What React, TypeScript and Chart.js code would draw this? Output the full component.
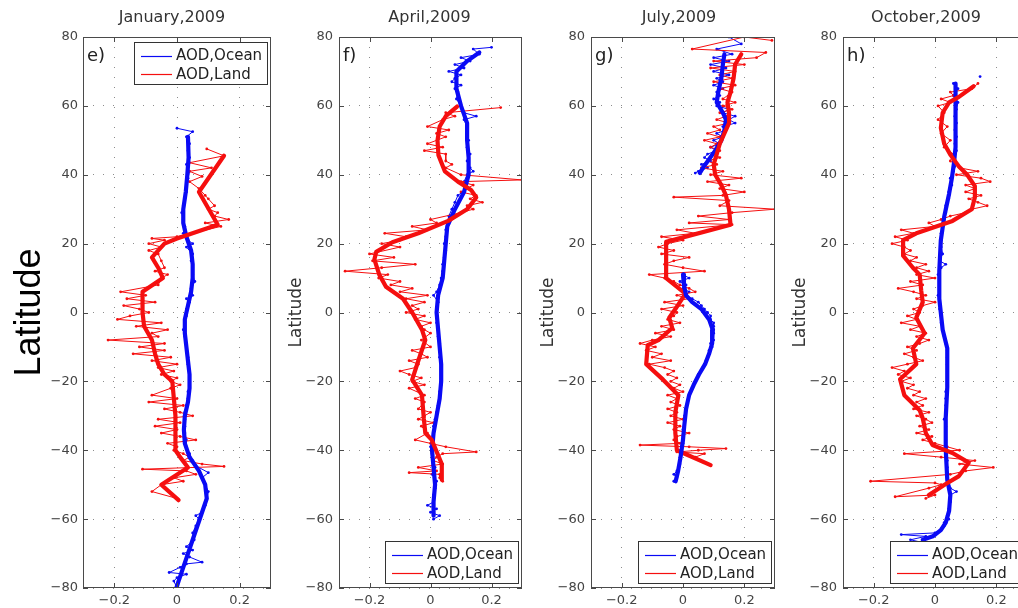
import React, { useEffect, useRef } from 'react';
import { Chart, registerables } from 'chart.js';

Chart.register(...registerables);

type P = [number, number]; // [latitude, AOD difference]

const panelTitles = ['January,2009', 'April,2009', 'July,2009', 'October,2009'];
const panelLetters = ['e)', 'f)', 'g)', 'h)'];
const legendLabels = ['AOD,Ocean', 'AOD,Land'];
const yAxisLabel = 'Latitude';
const latTicks = [-80, -60, -40, -20, 0, 20, 40, 60, 80];
const aodTicks = [-0.2, 0, 0.2];
const latRange = [-80, 80];
const aodRange = [-0.3, 0.3];

// ---------- January ----------
const janOceanRaw: P[] = [
  [53.5, 0.0], [52.5, 0.05], [51, 0.03], [49, 0.04], [47, 0.035], [45, 0.04], [43, 0.03], [41, 0.04],
  [39, 0.035], [37, 0.03], [35, 0.03], [33, 0.025], [31, 0.02], [29, 0.015], [27, 0.02], [25, 0.025],
  [23, 0.02], [21, 0.035], [20, 0.05], [19, 0.03], [17, 0.05], [15, 0.045], [13, 0.05], [11, 0.05],
  [9, 0.057], [7, 0.045], [5, 0.05], [4, 0.03], [3, 0.04], [1, 0.03], [-1, 0.03], [-3, 0.025],
  [-5, 0.02], [-7, 0.025], [-9, 0.03], [-11, 0.03], [-13, 0.035], [-15, 0.035], [-17, 0.04], [-19, 0.04],
  [-21, 0.04], [-23, 0.035], [-25, 0.035], [-27, 0.03], [-29, 0.025], [-31, 0.025], [-33, 0.025], [-35, 0.025],
  [-37, 0.03], [-39, 0.03], [-41, 0.04], [-43, 0.05], [-44.5, 0.06], [-46.5, 0.1], [-48, 0.08], [-50, 0.09],
  [-52, 0.1], [-54, 0.095], [-56, 0.09], [-58, 0.08], [-59, 0.06], [-60, 0.07], [-62, 0.06], [-64, 0.05],
  [-66, 0.055], [-68, 0.03], [-69, 0.05], [-70, 0.02], [-71, 0.04], [-72.5, 0.08], [-73, 0.03], [-74, 0.01],
  [-75.5, -0.025], [-76, 0.03], [-77, 0.0], [-78, -0.01], [-80, 0.0],
];
const janOceanSmooth: P[] = [
  [51, 0.035], [45, 0.037], [40, 0.033], [35, 0.028], [30, 0.02], [26, 0.02], [22, 0.03], [18, 0.045],
  [14, 0.05], [10, 0.05], [6, 0.045], [2, 0.035], [-2, 0.025], [-6, 0.025], [-10, 0.03], [-14, 0.035],
  [-18, 0.04], [-22, 0.04], [-26, 0.035], [-30, 0.025], [-34, 0.022], [-38, 0.025], [-42, 0.04], [-46, 0.07],
  [-50, 0.09], [-54, 0.095], [-58, 0.08], [-62, 0.065], [-66, 0.05], [-70, 0.035], [-74, 0.02], [-78, 0.005],
  [-80, -0.002],
];
const janLandRaw: P[] = [
  [47.5, 0.095], [45.5, 0.15], [43.5, 0.04], [42, 0.11], [41, 0.04], [39.5, 0.08], [38, 0.04], [36, 0.07],
  [34, 0.09], [33, 0.1], [31, 0.12], [30, 0.1], [29, 0.13], [28, 0.12], [27, 0.165], [26, 0.09],
  [25, 0.14], [22, 0.0], [21.5, -0.08], [21, -0.04], [20, -0.09], [19, -0.05], [18, -0.09], [17, -0.06],
  [15, -0.05], [13, -0.04], [12, -0.07], [11, -0.03], [10, -0.05], [8, -0.06], [6, -0.18], [5, -0.1],
  [4, -0.16], [3, -0.07], [2, -0.17], [1, -0.12], [0, -0.09], [-1, -0.15], [-2, -0.19], [-3, -0.05],
  [-4, -0.13], [-5, -0.03], [-6, -0.08], [-7, -0.06], [-8, -0.22], [-9, -0.04], [-10, -0.12], [-11, -0.04],
  [-12, -0.14], [-13, -0.02], [-14, -0.08], [-15, 0.0], [-16, -0.06], [-17, -0.01], [-18, -0.05], [-19, 0.0],
  [-20, -0.02], [-21, 0.01], [-22, -0.02], [-24, -0.08], [-25, 0.0], [-26, -0.09], [-27, 0.02], [-28, -0.04],
  [-29, 0.01], [-30, 0.05], [-31, -0.06], [-32, 0.01], [-33, -0.07], [-34, 0.0], [-35, -0.05], [-36, 0.01],
  [-37, 0.06], [-38, -0.03], [-39, 0.0], [-40, -0.01], [-41, 0.02], [-42, 0.04], [-43, 0.02], [-44, 0.08],
  [-44.7, 0.15], [-45.5, -0.11], [-46, 0.03], [-47, 0.06], [-48, -0.01], [-49, 0.02], [-50, -0.05], [-52, -0.08],
  [-54, 0.0],
];
const janLandSmooth: P[] = [
  [45.5, 0.15], [35, 0.07], [25.5, 0.13], [21.5, 0.0], [20, -0.04], [16, -0.08], [13, -0.06], [10, -0.045],
  [6, -0.11], [0, -0.11], [-4, -0.105], [-8, -0.08], [-12, -0.07], [-15, -0.06], [-18, -0.04], [-20, -0.015],
  [-25, -0.01], [-30, -0.005], [-35, -0.005], [-40, -0.005], [-42, 0.01], [-45, 0.035], [-50, -0.05], [-54.5, 0.005],
];

// ---------- April ----------
const aprOceanRaw: P[] = [
  [77, 0.2], [76.5, 0.14], [75, 0.16], [74, 0.1], [73, 0.13], [72, 0.08], [71, 0.11], [70, 0.06],
  [69, 0.1], [68, 0.08], [67, 0.07], [66, 0.1], [65, 0.08], [64, 0.09], [62, 0.085], [60, 0.1],
  [58, 0.11], [57, 0.15], [56, 0.11], [54, 0.12], [52, 0.12], [50, 0.125], [48, 0.12], [46, 0.13],
  [44, 0.12], [42, 0.13], [41, 0.14], [40, 0.12], [38, 0.11], [36, 0.12], [34, 0.09], [32, 0.08],
  [30, 0.07], [28, 0.06], [26, 0.055], [24, 0.05], [22, 0.05], [20, 0.045], [18, 0.05], [16, 0.045],
  [14, 0.04], [12, 0.04], [10, 0.035], [8, 0.03], [6, 0.02], [5, 0.01], [3, 0.025], [1, 0.02],
  [-1, 0.02], [-3, 0.02], [-5, 0.025], [-7, 0.025], [-9, 0.03], [-11, 0.03], [-13, 0.03], [-15, 0.035],
  [-17, 0.035], [-19, 0.035], [-21, 0.035], [-23, 0.03], [-25, 0.03], [-27, 0.025], [-29, 0.02], [-31, 0.015],
  [-33, 0.01], [-35, 0.01], [-37, 0.005], [-39, 0.0], [-41, 0.005], [-43, 0.01], [-45, 0.015], [-47, 0.005],
  [-49, 0.02], [-51, 0.015], [-53, 0.01], [-55, 0.01], [-56, -0.01], [-57, 0.02], [-58, 0.0], [-59, 0.03],
  [-60, 0.01],
];
const aprOceanSmooth: P[] = [
  [75.5, 0.16], [73, 0.12], [70, 0.085], [65, 0.085], [60, 0.1], [55, 0.12], [50, 0.12], [45, 0.125],
  [40, 0.125], [35, 0.11], [30, 0.08], [25, 0.055], [20, 0.05], [15, 0.045], [10, 0.04], [5, 0.025],
  [0, 0.02], [-5, 0.025], [-10, 0.03], [-15, 0.035], [-20, 0.035], [-25, 0.03], [-30, 0.02], [-35, 0.01],
  [-40, 0.005], [-45, 0.01], [-50, 0.015], [-55, 0.01], [-59, 0.01],
];
const aprLandRaw: P[] = [
  [59.5, 0.23], [58, 0.05], [57, 0.08], [56, 0.04], [54, -0.01], [53, 0.06], [52, 0.02], [51, 0.05],
  [49, -0.01], [48, 0.04], [47, -0.02], [46, 0.05], [44, 0.05], [43, 0.07], [42, 0.05], [40, 0.1],
  [38.5, 0.3], [38, 0.1], [37, 0.14], [36, 0.12], [35, 0.1], [34, 0.15], [33, 0.13], [32, 0.17],
  [31, 0.12], [30, 0.14], [29, 0.1], [27, 0.0], [26, 0.02], [25, -0.06], [24, -0.01], [23, -0.15],
  [22, -0.08], [21, -0.1], [20, -0.16], [19, -0.1], [17, -0.2], [16, -0.12], [15, -0.19], [14, -0.05],
  [13, -0.16], [12, -0.28], [11, -0.14], [10, -0.17], [9, -0.1], [8, -0.13], [7, -0.06], [6, -0.1],
  [5, -0.01], [4, -0.08], [3, -0.02], [2, -0.06], [1, -0.04], [0, -0.08], [-1, -0.02], [-2, -0.05],
  [-3, 0.0], [-4, -0.03], [-5, -0.02], [-6, 0.0], [-8, -0.03], [-10, 0.0], [-11, -0.06], [-12, -0.03],
  [-13, -0.01], [-14, -0.07], [-15, -0.04], [-16, -0.05], [-17, -0.1], [-18, -0.07], [-19, -0.03], [-20, -0.06],
  [-21, -0.02], [-22, -0.07], [-24, -0.02], [-25, -0.05], [-26, -0.02], [-28, -0.04], [-29, 0.0], [-30, -0.02],
  [-31, -0.04], [-32, 0.01], [-33, -0.03], [-35, -0.01], [-37, -0.05], [-38, 0.0], [-39, 0.05], [-40.5, 0.15],
  [-41, 0.04], [-42, 0.02], [-43, 0.01], [-44, 0.04], [-45, -0.04], [-46, 0.02], [-46.5, -0.07], [-47, 0.03],
  [-48, 0.03], [-49, 0.04],
];
const aprLandSmooth: P[] = [
  [59.8, 0.087], [57, 0.05], [54, 0.03], [50, 0.023], [45.7, 0.026], [41, 0.047], [38, 0.09], [35.6, 0.133],
  [33.4, 0.15], [30, 0.12], [26.6, 0.058], [23, -0.04], [20.4, -0.125], [17.6, -0.178], [15.4, -0.184], [11, -0.168],
  [7.5, -0.146], [4, -0.09], [0, -0.06], [-5, -0.028], [-8, -0.017], [-14, -0.04], [-19.5, -0.06], [-24, -0.028],
  [-30.7, -0.022], [-35, -0.017], [-37, 0.004], [-44, 0.037], [-48.6, 0.037],
];

// ---------- July ----------
const julOceanRawN: P[] = [
  [80, 0.15], [78, 0.19], [76.5, 0.11], [75, 0.16], [74, 0.1], [73, 0.15], [72, 0.09], [71, 0.14],
  [70, 0.1], [69, 0.15], [68, 0.11], [67, 0.13], [66, 0.1], [65, 0.13], [64, 0.11], [63, 0.12],
  [62, 0.1], [61, 0.12], [60, 0.11], [59, 0.15], [58, 0.13], [57, 0.17], [56, 0.15], [55, 0.17],
  [54, 0.13], [53, 0.14], [52, 0.11], [51, 0.13], [50, 0.1], [49, 0.12], [48, 0.09], [47, 0.11],
  [46, 0.08], [45, 0.07], [44, 0.09], [43, 0.06], [42, 0.08], [41, 0.05], [40.5, 0.04],
];
const julOceanRawS: P[] = [
  [11, 0.0], [10, 0.02], [9, -0.01], [8, 0.01], [7, 0.0], [6, 0.02], [5, 0.01], [4, 0.03],
  [3, 0.05], [2, 0.06], [1, 0.07], [0, 0.08], [-1, 0.09], [-2, 0.09], [-3, 0.1], [-4, 0.1],
  [-5, 0.1], [-6, 0.1], [-7, 0.095], [-8, 0.1], [-9, 0.09], [-10, 0.095], [-11, 0.085], [-12, 0.085],
  [-14, 0.075], [-16, 0.065], [-18, 0.05], [-20, 0.04], [-22, 0.03], [-24, 0.02], [-26, 0.015], [-28, 0.01],
  [-30, 0.005], [-32, 0.005], [-34, 0.0], [-36, 0.0], [-38, 0.0], [-40, -0.005], [-42, -0.01], [-44, -0.01],
  [-46, -0.02], [-47, -0.03], [-48, -0.02], [-49, -0.03],
];
const julOceanSmoothN: P[] = [
  [75, 0.135], [72, 0.13], [68, 0.125], [64, 0.115], [61, 0.11], [58, 0.13], [56, 0.14], [53, 0.135],
  [50, 0.125], [47, 0.105], [44.5, 0.085], [42, 0.065], [40.5, 0.055],
];
const julOceanSmoothS: P[] = [
  [11, 0.0], [8, 0.003], [5, 0.01], [3, 0.03], [1, 0.06], [-2, 0.085], [-5, 0.097], [-9, 0.095],
  [-12, 0.085], [-15, 0.072], [-18, 0.052], [-21, 0.035], [-24, 0.02], [-28, 0.01], [-33, 0.004], [-37, 0.0],
  [-42, -0.008], [-46, -0.016], [-49, -0.024],
];
const julLandRaw: P[] = [
  [79, 0.29], [80, 0.2], [76.5, 0.03], [75.5, 0.27], [74, 0.24], [73, 0.1], [72, 0.2], [71, 0.09],
  [70, 0.17], [69, 0.12], [68, 0.16], [67, 0.1], [66, 0.17], [65, 0.12], [64, 0.16], [62, 0.13],
  [61, 0.17], [60, 0.13], [59, 0.16], [58, 0.12], [57, 0.14], [56, 0.11], [55, 0.15], [54, 0.1],
  [53, 0.12], [52, 0.08], [51, 0.12], [50, 0.07], [49, 0.11], [48, 0.09], [47, 0.12], [46, 0.1],
  [45, 0.12], [44, 0.08], [43, 0.11], [42, 0.06], [41, 0.13], [40, 0.09], [39, 0.19], [38, 0.08],
  [37, 0.15], [36, 0.12], [35, 0.2], [34, 0.13], [33.5, -0.03], [32.5, 0.15], [31, 0.12], [30, 0.3],
  [29, 0.16], [28, 0.05], [27, 0.15], [26, 0.02], [25.5, 0.16], [24, -0.02], [23, 0.04], [22, -0.07],
  [21, 0.0], [20, -0.05], [19, -0.08], [18, -0.03], [17, -0.07], [16, 0.02], [15, -0.03], [14, -0.06],
  [13, 0.0], [12, 0.07], [11, -0.11], [10, -0.06], [9, -0.03], [8, -0.01], [7, 0.02], [6, 0.04],
  [5, -0.02], [4, 0.02], [3, -0.06], [2, 0.0], [1, -0.07], [0, -0.02], [-1, -0.03], [-2, -0.05],
  [-3, -0.01], [-4, -0.07], [-5, -0.03], [-6, -0.09], [-7, -0.04], [-8, -0.1], [-9, -0.14], [-10, -0.09],
  [-11, -0.12], [-12, -0.07], [-13, -0.1], [-14, -0.04], [-15, -0.11], [-16, -0.06], [-17, -0.03], [-18, -0.05],
  [-19, -0.02], [-20, -0.04], [-21, -0.01], [-22, -0.03], [-23, 0.0], [-24, -0.05], [-25, -0.02], [-26, -0.04],
  [-27, -0.01], [-28, -0.05], [-29, -0.02], [-30, -0.04], [-31, 0.0], [-32, -0.05], [-33, -0.01], [-34, -0.03],
  [-35, 0.02], [-36, -0.02], [-37, -0.03], [-38, -0.01], [-38.5, -0.14], [-39, 0.02], [-39.5, 0.14], [-40, 0.05],
  [-40.5, -0.02], [-41, 0.07], [-42, 0.04],
];
const julLandSmooth: P[] = [
  [75, 0.19], [72, 0.17], [68, 0.165], [64, 0.155], [61, 0.145], [58, 0.15], [55, 0.15], [52, 0.135],
  [49, 0.12], [46, 0.11], [43, 0.1], [40, 0.105], [37, 0.125], [34, 0.14], [30, 0.15], [25.5, 0.155],
  [20.5, -0.055], [15, -0.055], [10, -0.055], [5.5, 0.008], [1, -0.025], [-1.5, -0.045], [-4.5, -0.035], [-8, -0.08],
  [-9.5, -0.115], [-15, -0.12], [-19.5, -0.065], [-24, -0.015], [-29, -0.025], [-35, -0.025], [-40, -0.02], [-44.3, 0.09],
];

// ---------- October ----------
const octOceanStray: P[] = [[68.5, 0.147]];
const octOceanRaw: P[] = [
  [66.5, 0.06], [65, 0.075], [63, 0.06], [61, 0.075], [59, 0.07], [57, 0.065], [55, 0.07], [53, 0.065],
  [51, 0.07], [49, 0.065], [47, 0.07], [45, 0.06], [43, 0.07], [41, 0.06], [39, 0.05], [37, 0.055],
  [35, 0.045], [33, 0.045], [31, 0.035], [29, 0.035], [27, 0.03], [25, 0.025], [23, 0.02], [21, 0.02],
  [19, 0.02], [17, 0.025], [15, 0.015], [14, 0.035], [13, 0.02], [11, 0.01], [9, 0.015], [7, 0.015],
  [5, 0.01], [3, 0.015], [1, 0.015], [-1, 0.02], [-3, 0.02], [-5, 0.025], [-7, 0.03], [-9, 0.035],
  [-11, 0.04], [-13, 0.04], [-15, 0.04], [-17, 0.04], [-19, 0.04], [-21, 0.04], [-23, 0.035], [-25, 0.035],
  [-27, 0.035], [-29, 0.035], [-31, 0.03], [-33, 0.035], [-35, 0.035], [-37, 0.035], [-39, 0.035], [-41, 0.035],
  [-43, 0.04], [-45, 0.04], [-47, 0.04], [-49, 0.045], [-51, 0.05], [-52, 0.07], [-53, 0.05], [-55, 0.05],
  [-57, 0.045], [-59, 0.04], [-60, 0.045], [-61, 0.03], [-62, 0.03], [-63, 0.02], [-64, 0.0], [-64.5, -0.11],
  [-65, -0.03], [-66, -0.08], [-67, -0.03],
];
const octOceanSmooth: P[] = [
  [66.5, 0.067], [61.5, 0.067], [55, 0.067], [48, 0.067], [43.5, 0.062], [39, 0.055], [34.5, 0.046], [27.8, 0.03],
  [21, 0.019], [12, 0.014], [4, 0.014], [-5, 0.025], [-10.4, 0.04], [-21.7, 0.04], [-30.7, 0.035], [-39.7, 0.035],
  [-48.6, 0.04], [-53, 0.05], [-57.6, 0.046], [-61, 0.035], [-63.2, 0.019], [-65, -0.007], [-66, -0.04],
];
const octLandRaw: P[] = [
  [66.5, 0.14], [65, 0.12], [64, 0.05], [63, 0.06], [62, 0.02], [61, 0.05], [60, 0.01], [58, 0.03],
  [56, 0.01], [54, 0.04], [52, 0.02], [50, 0.05], [48, 0.03], [46, 0.06], [44, 0.05], [42, 0.08],
  [41, 0.14], [40, 0.07], [39, 0.15], [38, 0.18], [37, 0.1], [36, 0.13], [35, 0.1], [34, 0.15],
  [33, 0.11], [32, 0.14], [31, 0.17], [30, 0.12], [29, 0.1], [28, 0.05], [27, 0.02], [26, -0.02],
  [25, 0.0], [24, -0.11], [23, -0.07], [22, -0.13], [21, -0.09], [20, -0.14], [19, -0.1], [18, -0.08],
  [17, -0.1], [16, -0.06], [15, -0.08], [14, -0.03], [13, -0.06], [12, -0.02], [11, -0.06], [10, 0.0],
  [9, -0.08], [8, -0.04], [7, -0.12], [6, -0.07], [5, -0.03], [4, -0.06], [3, 0.0], [2, -0.04],
  [1, -0.07], [0, -0.05], [-1, -0.09], [-2, -0.06], [-3, -0.11], [-4, -0.05], [-5, -0.08], [-6, -0.03],
  [-7, -0.06], [-8, -0.02], [-9, -0.05], [-10, -0.09], [-11, -0.06], [-12, -0.1], [-13, -0.07], [-14, -0.04],
  [-15, -0.09], [-16, -0.14], [-17, -0.1], [-18, -0.12], [-19, -0.08], [-20, -0.11], [-21, -0.07], [-22, -0.09],
  [-23, -0.05], [-24, -0.07], [-25, -0.03], [-26, -0.06], [-27, -0.04], [-28, -0.07], [-29, -0.02], [-30, -0.06],
  [-31, -0.03], [-32, -0.01], [-33, -0.05], [-34, -0.02], [-35, -0.06], [-36, -0.01], [-37, -0.04], [-38, 0.0],
  [-39, 0.04], [-40, 0.08], [-41, -0.1], [-42, 0.02], [-43, 0.13], [-44, 0.08], [-45, 0.19], [-46, 0.1],
  [-47, 0.05], [-49, -0.21], [-49.5, 0.0], [-50, 0.02], [-51, -0.02], [-53.5, -0.13], [-53, 0.0], [-54, -0.03],
];
const octLandSmooth: P[] = [
  [65.7, 0.126], [62.6, 0.078], [61, 0.046], [58, 0.025], [53.6, 0.019], [49, 0.03], [45.7, 0.051], [42.4, 0.078],
  [40, 0.105], [36.7, 0.13], [33.4, 0.13], [30, 0.12], [26.6, 0.057], [23, -0.061], [21, -0.104], [16.5, -0.104],
  [13, -0.072], [11, -0.05], [6.4, -0.045], [3, -0.04], [-1.5, -0.061], [-6, -0.034], [-10.4, -0.072], [-15, -0.061],
  [-19.4, -0.114], [-24, -0.1], [-28.4, -0.05], [-30.7, -0.04], [-35, -0.03], [-38.5, -0.008], [-40.8, 0.057], [-43.6, 0.11],
  [-47.5, 0.078], [-49.8, 0.035], [-53, -0.02],
];

type Kind = 'oceanRaw' | 'landRaw' | 'oceanSmooth' | 'landSmooth';
// listed top-most first (Chart.js draws dataset 0 on top)
const panelSeries: { kind: Kind; data: P[] }[][] = [
  [
    { kind: 'landSmooth', data: janLandSmooth },
    { kind: 'oceanSmooth', data: janOceanSmooth },
    { kind: 'landRaw', data: janLandRaw },
    { kind: 'oceanRaw', data: janOceanRaw },
  ],
  [
    { kind: 'landSmooth', data: aprLandSmooth },
    { kind: 'oceanSmooth', data: aprOceanSmooth },
    { kind: 'landRaw', data: aprLandRaw },
    { kind: 'oceanRaw', data: aprOceanRaw },
  ],
  [
    { kind: 'oceanSmooth', data: julOceanSmoothS },
    { kind: 'landSmooth', data: julLandSmooth },
    { kind: 'oceanSmooth', data: julOceanSmoothN },
    { kind: 'landRaw', data: julLandRaw },
    { kind: 'oceanRaw', data: julOceanRawN },
    { kind: 'oceanRaw', data: julOceanRawS },
  ],
  [
    { kind: 'landSmooth', data: octLandSmooth },
    { kind: 'oceanSmooth', data: octOceanSmooth },
    { kind: 'landRaw', data: octLandRaw },
    { kind: 'oceanRaw', data: octOceanRaw },
    { kind: 'oceanRaw', data: octOceanStray },
  ],
];

const BLUE = 'rgb(10,10,245)';
const RED = 'rgb(245,15,15)';
const FONT = "'DejaVu Sans'";

const layouts = [
  { left: 0, axisW: 83, plotW: 190, yTitleSize: 36, yTitleFamily: "'Liberation Sans', Arial", yTitlePad: 8, yTitleColor: '#000', tickPad: 5, titleDx: -5, legendPos: 'top' },
  { left: 279, axisW: 60, plotW: 185, yTitleSize: 17, yTitleFamily: FONT, yTitlePad: 7, yTitleColor: '#333', tickPad: 6, titleDx: -1, legendPos: 'bottom' },
  { left: 531, axisW: 60, plotW: 186, yTitleSize: 17, yTitleFamily: FONT, yTitlePad: 7, yTitleColor: '#333', tickPad: 6, titleDx: -4, legendPos: 'bottom' },
  { left: 783, axisW: 60, plotW: 186, yTitleSize: 17, yTitleFamily: FONT, yTitlePad: 7, yTitleColor: '#333', tickPad: 6, titleDx: -9, legendPos: 'bottom' },
];

const fmt = (v: number) => (v === 0 ? '0' : (v < 0 ? '\u2212' : '') + String(Math.abs(v)));

function styleFor(kind: Kind) {
  const color = kind.startsWith('ocean') ? BLUE : RED;
  const thick = kind.endsWith('Smooth');
  return {
    borderColor: color,
    backgroundColor: color,
    pointBackgroundColor: color,
    pointBorderWidth: 0,
    pointRadius: thick ? 0 : 1.4,
    borderWidth: thick ? 4.2 : 1,
    borderJoinStyle: 'round' as const,
    borderCapStyle: 'round' as const,
  };
}

const framePlugin = {
  id: 'matlabFrame',
  afterDraw(chart: any, _args: any, opts: any) {
    const { ctx, chartArea: a, scales } = chart;
    ctx.save();
    // frame
    ctx.strokeStyle = '#4a4a4a';
    ctx.lineWidth = 1;
    ctx.strokeRect(a.left + 0.5, a.top + 0.5, a.right - a.left - 1, a.bottom - a.top - 1);
    // inward ticks on all sides
    ctx.beginPath();
    for (const v of aodTicks) {
      const x = Math.round(scales.x.getPixelForValue(v)) + 0.5;
      ctx.moveTo(x, a.bottom); ctx.lineTo(x, a.bottom - 5);
      ctx.moveTo(x, a.top); ctx.lineTo(x, a.top + 5);
    }
    for (const v of latTicks) {
      const y = Math.round(scales.y.getPixelForValue(v)) + 0.5;
      ctx.moveTo(a.left, y); ctx.lineTo(a.left + 5, y);
      ctx.moveTo(a.right, y); ctx.lineTo(a.right - 5, y);
    }
    ctx.stroke();
    // title
    ctx.fillStyle = '#333';
    ctx.font = `16px ${FONT}`;
    ctx.textAlign = 'center';
    ctx.textBaseline = 'alphabetic';
    ctx.fillText(opts.title, (a.left + a.right) / 2 + opts.titleDx, 22);
    // panel letter
    ctx.textAlign = 'left';
    ctx.font = `18px ${FONT}`;
    ctx.fillStyle = '#222';
    ctx.fillText(opts.letter, a.left + 4, a.top + 24);
    // legend
    const w = 133, h = 42;
    const lx = a.right - 4 - w;
    const ly = opts.legendPos === 'top' ? a.top + 5 : a.bottom - 5 - h;
    ctx.fillStyle = '#fff';
    ctx.fillRect(lx, ly, w, h);
    ctx.strokeStyle = '#333';
    ctx.strokeRect(lx + 0.5, ly + 0.5, w, h);
    const rows = [ly + 13.5, ly + 32];
    const colors = [BLUE, RED];
    ctx.font = `15px ${FONT}`;
    ctx.textBaseline = 'middle';
    for (let i = 0; i < 2; i++) {
      ctx.strokeStyle = colors[i];
      ctx.lineWidth = 1.2;
      ctx.beginPath();
      ctx.moveTo(lx + 7, Math.round(rows[i]) + 0.5);
      ctx.lineTo(lx + 38, Math.round(rows[i]) + 0.5);
      ctx.stroke();
      ctx.fillStyle = '#222';
      ctx.fillText(legendLabels[i], lx + 42, rows[i] + 1);
    }
    ctx.restore();
  },
};

function Panel({ idx }: { idx: number }) {
  const ref = useRef<HTMLCanvasElement>(null);
  const L = layouts[idx];
  const width = L.axisW + L.plotW + 2;
  useEffect(() => {
    const datasets = panelSeries[idx].map((s) => ({
      data: s.data.map(([lat, aod]) => ({ x: aod, y: lat })),
      showLine: true,
      tension: 0,
      ...styleFor(s.kind),
    }));
    const chart = new Chart(ref.current as HTMLCanvasElement, {
      type: 'scatter',
      data: { datasets },
      plugins: [framePlugin],
      options: {
        responsive: false,
        animation: false,
        events: [],
        layout: { padding: { top: 37, right: 2, left: 0, bottom: 0 } },
        plugins: {
          legend: { display: false },
          tooltip: { enabled: false },
          title: { display: false },
          matlabFrame: { title: panelTitles[idx], letter: panelLetters[idx], titleDx: L.titleDx, legendPos: L.legendPos },
        } as any,
        scales: {
          x: {
            type: 'linear',
            min: aodRange[0],
            max: aodRange[1],
            afterBuildTicks: (s: any) => { s.ticks = aodTicks.map((v) => ({ value: v })); },
            afterFit: (s: any) => { s.height = 20; },
            ticks: { color: '#444', font: { family: FONT, size: 13 }, padding: 5, maxRotation: 0, callback: (v: any) => fmt(Number(v)) },
            grid: { color: '#8c8c8c', lineWidth: 1, drawTicks: false },
            border: { display: false, dash: [1, 9] },
          },
          y: {
            type: 'linear',
            min: latRange[0],
            max: latRange[1],
            afterBuildTicks: (s: any) => { s.ticks = latTicks.map((v) => ({ value: v })); },
            afterFit: (s: any) => { s.width = L.axisW; },
            ticks: { color: '#444', font: { family: FONT, size: 13 }, padding: L.tickPad, callback: (v: any) => fmt(Number(v)) },
            grid: { color: '#8c8c8c', lineWidth: 1, drawTicks: false },
            border: { display: false, dash: [1, 9] },
            title: {
              display: true,
              text: yAxisLabel,
              color: L.yTitleColor,
              font: { family: L.yTitleFamily, size: L.yTitleSize, lineHeight: 1.2 },
              padding: { top: L.yTitlePad, bottom: 0 },
            },
          },
        },
      } as any,
    });
    return () => chart.destroy();
  }, [idx]);
  return (
    <canvas
      ref={ref}
      width={width}
      height={608}
      style={{ position: 'absolute', left: L.left, top: 0, width, height: 608 }}
    />
  );
}

export default function App() {
  return (
    <div style={{ position: 'fixed', left: 0, top: 0, width: 1018, height: 608, overflow: 'hidden', background: '#fff' }}>
      {layouts.map((_, i) => (
        <Panel key={i} idx={i} />
      ))}
    </div>
  );
}
